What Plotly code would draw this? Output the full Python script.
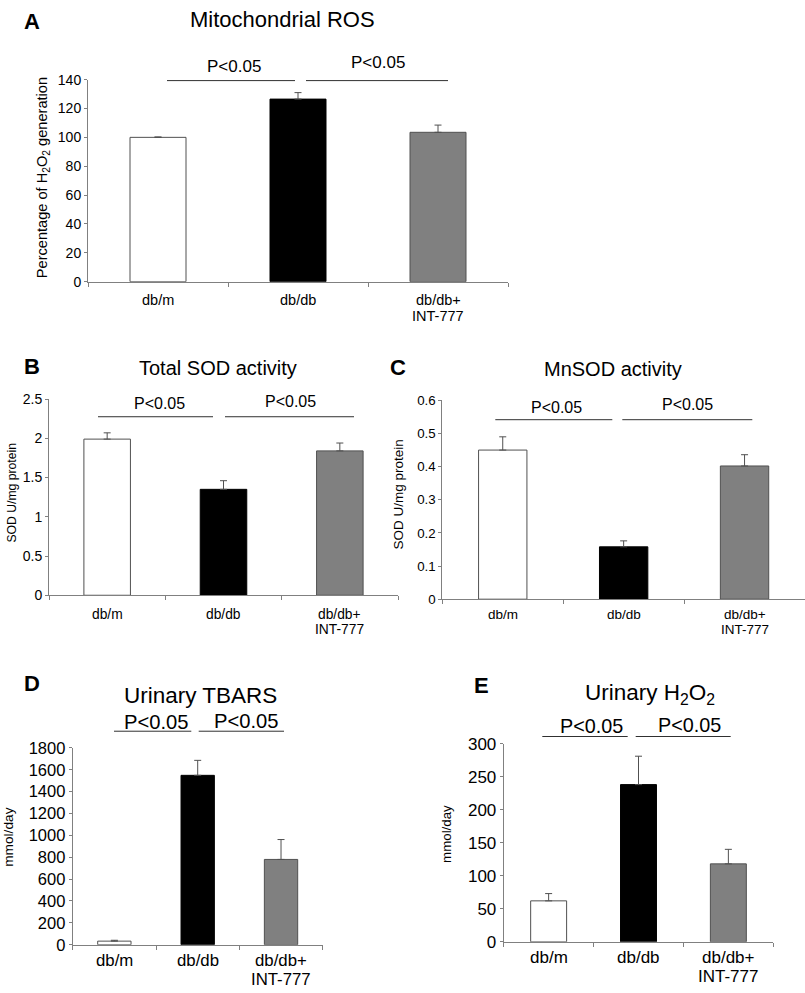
import plotly.graph_objects as go

W, H = 805, 993
FONT = "Liberation Sans, Arial, sans-serif"

categories = ["db/m", "db/db", "db/db+<br>INT-777"]
bar_colors = ["#ffffff", "#000000", "#808080"]
line_colors = ["#505050", "#000000", "#505050"]

# Panel A - Mitochondrial ROS (% of H2O2 generation)
ros_values = [100, 126.5, 103.5]
ros_errors = [0.3, 4.5, 5.0]
# Panel B - Total SOD activity (SOD U/mg protein)
tsod_values = [1.99, 1.35, 1.84]
tsod_errors = [0.08, 0.11, 0.10]
# Panel C - MnSOD activity
mnsod_values = [0.45, 0.158, 0.402]
mnsod_errors = [0.04, 0.018, 0.034]
# Panel D - Urinary TBARS (mmol/day)
tbars_values = [33, 1549, 780]
tbars_errors = [8, 137, 182]
# Panel E - Urinary H2O2 (mmol/day)
h2o2_values = [62, 238, 118]
h2o2_errors = [11, 43, 22]


def px(x):
    return x / W


def py(y):
    return 1 - y / H


panels = [
    dict(letter="A", title="Mitochondrial ROS", vals=ros_values, errs=ros_errors,
         ymax=140, dtick=20, x0=88, x1=508, yb=278, yt=72, tickfs=14, xtickfs=14.5, titlefs=22,
         ytitle="Percentage of H<sub>2</sub>O<sub>2</sub> generation", ytfs=14.6, ytx=43, yty=172.5,
         letter_xy=(32, 13), title_xy=(282, 11), pfs=17, lab_y=(297, 313),
         plines=[(167, 295, 73), (306, 448, 73)], ptexts=[(234, 59), (378, 55)]),
    dict(letter="B", title="Total SOD activity", vals=tsod_values, errs=tsod_errors,
         ymax=2.5, dtick=0.5, x0=49, x1=398, yb=597.7, yt=397.7, tickfs=14, xtickfs=13.8, titlefs=20,
         ytitle="SOD U/mg protein", ytfs=12.2, ytx=12, yty=493,
         letter_xy=(32, 364), title_xy=(218, 366), pfs=16, lab_y=(617, 633),
         plines=[(98, 213, 415.7), (225, 354, 415.7)], ptexts=[(159, 402.7), (290, 400)]),
    dict(letter="C", title="MnSOD activity", vals=mnsod_values, errs=mnsod_errors,
         ymax=0.6, dtick=0.1, x0=442.3, x1=805, yb=601.7, yt=399, tickfs=13.3, xtickfs=13.5, titlefs=20,
         ytitle="SOD U/mg protein", ytfs=13.5, ytx=399, yty=495,
         letter_xy=(398, 365), title_xy=(613, 367), pfs=16, lab_y=(617, 633),
         plines=[(495.3, 612.3, 418.7), (622.3, 752.3, 418.7)], ptexts=[(556.7, 406.7), (687.7, 403.3)]),
    dict(letter="D", title="Urinary TBARS", vals=tbars_values, errs=tbars_errors,
         ymax=1800, dtick=200, x0=72.7, x1=322.7, yb=954, yt=753.3, tickfs=16.5, xtickfs=16.8, titlefs=22.5,
         ytitle="mmol/day", ytfs=13.7, ytx=9, yty=845,
         letter_xy=(32, 688), title_xy=(200, 700), pfs=20.2, lab_y=(970.5, 989.5),
         plines=[(114, 191.3, 736.3), (198.7, 284, 736.3)], ptexts=[(156.7, 727.3), (246.7, 726)]),
    dict(letter="E", title="Urinary H<sub>2</sub>O<sub>2</sub>", vals=h2o2_values, errs=h2o2_errors,
         ymax=300, dtick=50, x0=503.7, x1=773.3, yb=951, yt=749, tickfs=17, xtickfs=17, titlefs=22.5,
         ytitle="mmol/day", ytfs=13.3, ytx=447, yty=841,
         letter_xy=(482, 690), title_xy=(650, 698), pfs=19.8, lab_y=(967.5, 986.5),
         plines=[(542.3, 627.7, 741.7), (635.7, 730.7, 741.7)], ptexts=[(591, 730.7), (689.3, 730)]),
]

fig = go.Figure()
annotations = []
shapes = []
layout = {}

for i, p in enumerate(panels, start=1):
    xa = "x" if i == 1 else f"x{i}"
    ya = "y" if i == 1 else f"y{i}"
    fig.add_trace(go.Bar(
        x=categories, y=p["vals"], xaxis=xa, yaxis=ya,
        width=0.4,
        marker=dict(color=bar_colors, line=dict(color=line_colors, width=1)),
        error_y=dict(type="data", symmetric=False, array=p["errs"],
                     arrayminus=[0] * len(p["errs"]),
                     color="#505050", thickness=1, width=3.5),
        showlegend=False, hoverinfo="skip",
    ))
    xkey = "xaxis" if i == 1 else f"xaxis{i}"
    ykey = "yaxis" if i == 1 else f"yaxis{i}"
    layout[xkey] = dict(
        domain=[px(p["x0"]), px(p["x1"])], anchor=ya, type="category",
        categoryorder="array", categoryarray=categories,
        range=[-0.5, 2.5], tickson="boundaries", ticks="outside", ticklen=4,
        tickcolor="#808080", showline=True, linecolor="#808080", linewidth=1,
        showgrid=False, zeroline=False, fixedrange=True, showticklabels=False,
    )
    layout[ykey] = dict(
        domain=[py(p["yb"]), py(p["yt"])], anchor=xa, range=[0, p["ymax"]],
        dtick=p["dtick"], tick0=0, ticks="outside", ticklen=3, tickcolor="#808080",
        showline=True, linecolor="#808080", linewidth=1, showgrid=False,
        zeroline=False, fixedrange=True,
        tickfont=dict(family=FONT, size=p["tickfs"], color="#000"),
    )
    # category labels, placed at the category positions of the x axis
    for cat in categories:
        for k, line in enumerate(cat.split("<br>")):
            annotations.append(dict(text=line, x=cat, xref=xa, y=py(p["lab_y"][k]),
                                    yref="paper", showarrow=False, xanchor="center",
                                    yanchor="middle", borderpad=0,
                                    font=dict(family=FONT, size=p["xtickfs"], color="#000")))
    lx, ly = p["letter_xy"]
    annotations.append(dict(text=f"<b>{p['letter']}</b>", x=px(lx), y=py(ly), xref="paper",
                            yref="paper", showarrow=False, xanchor="center", yanchor="middle",
                            font=dict(family=FONT, size=22, color="#000")))
    tx, ty = p["title_xy"]
    annotations.append(dict(text=p["title"], x=px(tx), y=py(ty), xref="paper", yref="paper",
                            showarrow=False, xanchor="center", yanchor="middle",
                            font=dict(family=FONT, size=p["titlefs"], color="#000")))
    annotations.append(dict(text=p["ytitle"], x=px(p["ytx"]), y=py(p["yty"]), xref="paper",
                            yref="paper", showarrow=False, xanchor="center", yanchor="middle",
                            textangle=-90,
                            font=dict(family=FONT, size=p["ytfs"], color="#000")))
    for (a, b, yy) in p["plines"]:
        shapes.append(dict(type="line", xref="paper", yref="paper", x0=px(a), x1=px(b),
                           y0=py(yy), y1=py(yy), line=dict(color="#303030", width=1)))
    for (ax_, ay_) in p["ptexts"]:
        annotations.append(dict(text="P&lt;0.05", x=px(ax_), y=py(ay_), xref="paper",
                                yref="paper", showarrow=False, xanchor="center",
                                yanchor="middle",
                                font=dict(family=FONT, size=p["pfs"], color="#000")))

fig.update_layout(
    width=W, height=H, margin=dict(l=0, r=0, t=0, b=0),
    paper_bgcolor="white", plot_bgcolor="white", showlegend=False,
    annotations=annotations, shapes=shapes, **layout,
)

fig.write_html(
    "out.html",
    config={"displayModeBar": False},
    post_script=(
        "document.body.style.margin='0px';document.body.style.padding='0px';"
        "document.body.style.overflow='hidden';"
        "var gd=document.getElementById('{plot_id}');gd.style.overflow='hidden';"
    ),
)
